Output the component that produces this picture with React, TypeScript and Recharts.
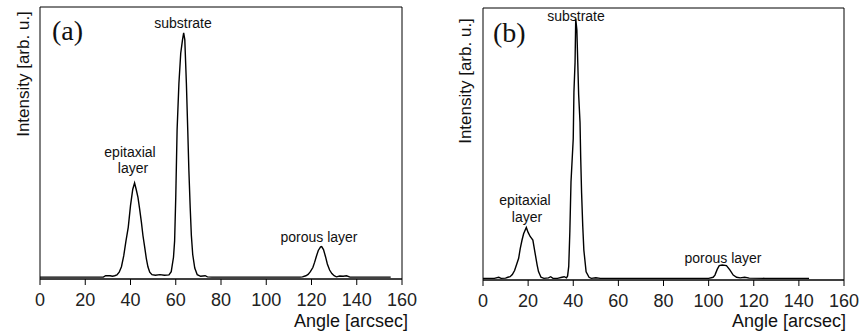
import React from "react";
import { LineChart, Line, XAxis, YAxis, ReferenceArea } from "recharts";

// panel (a): angle [arcsec] vs intensity (fraction of plot height)
const anglesA = [
  0, 5, 10, 15, 20, 25, 28, 29, 31, 32, 33, 34, 35, 36, 37, 38, 39, 40, 41,
  41.8, 42.5, 43.3, 44, 44.8, 45.5, 46.3, 47, 47.7, 48.5, 49.5, 51, 53, 55, 57,
  58, 59, 59.5, 60, 60.6, 61.4, 62.2, 63, 63.5, 64, 64.7, 65.3, 65.8, 66.4,
  66.9, 67.5, 68.4, 69.5, 71, 73, 74, 76, 80, 90, 100, 110, 115, 116, 117.5,
  118.5, 119.5, 120.6, 121.4, 122.1, 123, 124, 124.5, 125.3, 126.2, 127, 128,
  129, 130, 131, 132.5, 134, 135.5, 137, 140, 145, 150, 155,
];
const intensityA = [
  0.007, 0.007, 0.007, 0.007, 0.007, 0.007, 0.007, 0.012, 0.012, 0.01, 0.012,
  0.015, 0.025, 0.045, 0.085, 0.14, 0.19, 0.27, 0.33, 0.353, 0.33, 0.3, 0.26,
  0.21, 0.16, 0.115, 0.075, 0.045, 0.025, 0.016, 0.014, 0.016, 0.014, 0.015,
  0.027, 0.08, 0.14, 0.3, 0.55, 0.72, 0.83, 0.88, 0.905, 0.88, 0.72, 0.55, 0.4,
  0.26, 0.16, 0.09, 0.04, 0.016, 0.01, 0.012, 0.008, 0.007, 0.007, 0.007,
  0.007, 0.007, 0.007, 0.008, 0.012, 0.017, 0.027, 0.042, 0.062, 0.082, 0.105,
  0.118, 0.119, 0.108, 0.082, 0.055, 0.033, 0.02, 0.012, 0.008, 0.011, 0.01,
  0.012, 0.007, 0.007, 0.007, 0.007, 0.007,
];

// panel (b)
const anglesB = [
  0, 5, 7, 8, 10, 11, 12, 13, 14, 15, 15.8, 16.5, 17.3, 18, 19.2, 20, 20.9,
  22.1, 23.1, 24, 24.6, 25.7, 27, 29, 30, 31, 33, 35, 36, 37, 37.5, 38, 38.5,
  39, 40, 40.3, 40.8, 41.1, 41.6, 42, 42.4, 43, 43.3, 43.7, 44.2, 44.7, 45.7,
  47, 48, 50, 52, 60, 70, 80, 90, 100, 102, 102.8, 103.8, 104.7, 106, 107.9,
  109.4, 110.9, 112.4, 114, 116, 118, 125, 135, 144.5,
];
const intensityB = [
  0.006, 0.006, 0.01, 0.006, 0.007, 0.01, 0.012, 0.02, 0.035, 0.06, 0.08,
  0.115, 0.147, 0.17, 0.193, 0.175, 0.16, 0.147, 0.098, 0.055, 0.031, 0.01,
  0.006, 0.008, 0.012, 0.006, 0.006, 0.01, 0.012, 0.008, 0.015, 0.05, 0.18,
  0.36, 0.52, 0.69, 0.8, 0.96, 0.92, 0.8, 0.68, 0.58, 0.45, 0.32, 0.2, 0.11,
  0.03, 0.01, 0.006, 0.008, 0.006, 0.006, 0.006, 0.006, 0.006, 0.006, 0.01,
  0.018, 0.039, 0.053, 0.055, 0.053, 0.037, 0.018, 0.01, 0.008, 0.01, 0.007,
  0.006, 0.006, 0.006,
];

const xTicks = [0, 20, 40, 60, 80, 100, 120, 140, 160];

const dataA = anglesA.map((angle, i) => ({ angle, intensity: intensityA[i] }));
const dataB = anglesB.map((angle, i) => ({ angle, intensity: intensityB[i] }));

const font = "'Liberation Sans', Arial, sans-serif";

function Panel({
  data,
  margin,
}: {
  data: { angle: number; intensity: number }[];
  margin: { top: number; right: number; bottom: number; left: number };
}) {
  return (
    <LineChart width={431} height={336} data={data} margin={margin}>
      <XAxis
        dataKey="angle"
        type="number"
        domain={[0, 160]}
        ticks={xTicks}
        interval={0}
        height={30}
        tickSize={6}
        tickMargin={8}
        axisLine={{ stroke: "#000" }}
        tickLine={{ stroke: "#000" }}
        tick={{ fill: "#222", fontSize: 18, fontFamily: font }}
      />
      <YAxis type="number" domain={[0, 1]} hide />
      <ReferenceArea
        x1={0}
        x2={160}
        y1={0}
        y2={1}
        fill="none"
        stroke="#000"
        strokeWidth={1}
      />
      <Line
        type="linear"
        dataKey="intensity"
        stroke="#000"
        strokeWidth={1.4}
        dot={false}
        isAnimationActive={false}
      />
    </LineChart>
  );
}

export default function App() {
  return (
    <div
      style={{
        position: "absolute",
        left: 0,
        top: 0,
        width: 862,
        height: 336,
        overflow: "hidden",
        background: "#fff",
      }}
    >
      <div style={{ position: "absolute", left: 0, top: 0 }}>
        <Panel data={dataA} margin={{ top: 7, right: 29, bottom: 27, left: 40 }} />
      </div>
      <div style={{ position: "absolute", left: 431, top: 0 }}>
        <Panel data={dataB} margin={{ top: 8, right: 18, bottom: 26, left: 52 }} />
      </div>
      <svg
        width={862}
        height={336}
        style={{ position: "absolute", left: 0, top: 0, pointerEvents: "none" }}
        fontFamily={font}
        fill="#111"
      >
        {/* panel (a) */}
        <text x={52} y={40} fontFamily="'Liberation Serif', 'Times New Roman', serif" fontSize={28}>
          (a)
        </text>
        <text x={29} y={74} fontSize={17} textAnchor="middle" transform="rotate(-90 29 74)">
          Intensity [arb. u.]
        </text>
        <text x={408} y={327} fontSize={18} textAnchor="end">
          Angle [arcsec]
        </text>
        <text x={183} y={28} fontSize={14} textAnchor="middle">substrate</text>
        <text x={130} y={157} fontSize={14} textAnchor="middle">epitaxial</text>
        <text x={133} y={173} fontSize={14} textAnchor="middle">layer</text>
        <text x={319} y={242} fontSize={14} textAnchor="middle">porous layer</text>

        {/* panel (b) */}
        <text x={493} y={42} fontFamily="'Liberation Serif', 'Times New Roman', serif" fontSize={28}>
          (b)
        </text>
        <text x={471} y={81} fontSize={17} textAnchor="middle" transform="rotate(-90 471 81)">
          Intensity [arb. u.]
        </text>
        <text x={846} y={327} fontSize={18} textAnchor="end">
          Angle [arcsec]
        </text>
        <text x={576} y={21} fontSize={14} textAnchor="middle">substrate</text>
        <text x={525} y={205} fontSize={14} textAnchor="middle">epitaxial</text>
        <text x={527} y={222} fontSize={14} textAnchor="middle">layer</text>
        <text x={723} y={263} fontSize={14} textAnchor="middle">porous layer</text>
      </svg>
    </div>
  );
}
